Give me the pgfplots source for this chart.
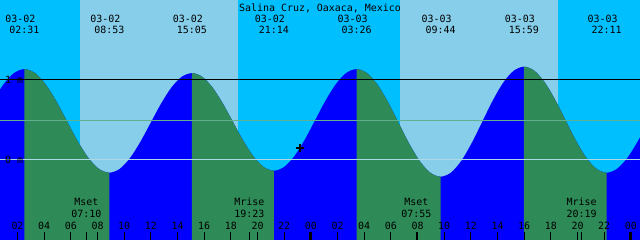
\documentclass[border=0pt]{standalone}
\usepackage{pgfplots}
\pgfplotsset{compat=1.18}
\usepgfplotslibrary{fillbetween}
\usepackage{fontspec}
\setmainfont{DejaVu Sans Mono}
\definecolor{nightc}{RGB}{0,191,255}
\definecolor{dayc}{RGB}{135,206,235}
\definecolor{risec}{RGB}{0,0,255}
\definecolor{fallc}{RGB}{46,139,87}
\definecolor{zeroc}{RGB}{173,216,230}
\definecolor{midc}{RGB}{96,176,144}
\begin{document}
\begin{tikzpicture}
\begin{axis}[
  scale only axis, width=640bp, height=240bp,
  xmin=0.6875, xmax=48.6875, ymin=-1.00625, ymax=1.99375,
  axis line style={draw=none},
  axis background/.style={fill=dayc},
  xtick=\empty, ytick=\empty,
  unbounded coords=jump,
  every node/.style={font=\fontsize{11.6bp}{13bp}\selectfont, inner sep=0pt},
]
% helper lines
\addplot[draw=none, name path=bot] coordinates {(-1,-1.00625) (50,-1.00625)};
\addplot[draw=none, name path=top] coordinates {(-1,1.99375) (50,1.99375)};
% night
\addplot[fill=nightc, draw=none] fill between[of=top and bot, soft clip={domain=0.6875:6.6875}];
\addplot[fill=nightc, draw=none] fill between[of=top and bot, soft clip={domain=18.5375:30.6875}];
\addplot[fill=nightc, draw=none] fill between[of=top and bot, soft clip={domain=42.5375:48.6875}];
% 1 m line
\addplot[black, line width=1bp] coordinates {(0.6875,1) (48.6875,1)};
% tide curve
\addplot[draw=none, name path=tide, smooth] coordinates {
(-0.592,0.490) (0.186,0.735) (0.963,0.943) (1.740,1.081) (2.517,1.130)
(3.313,1.081) (4.108,0.940) (4.904,0.730) (5.700,0.4825) (6.496,0.235) (7.292,0.025) (8.088,-0.116) (8.883,-0.165)
(9.658,-0.118) (10.433,0.017) (11.208,0.219) (11.983,0.4575) (12.758,0.696) (13.533,0.898) (14.308,1.033) (15.083,1.080)
(15.852,1.034) (16.621,0.901) (17.389,0.703) (18.158,0.470) (18.927,0.237) (19.696,0.039) (20.464,-0.0935) (21.233,-0.140)
(22.008,-0.092) (22.783,0.046) (23.558,0.252) (24.333,0.495) (25.108,0.738) (25.883,0.944) (26.658,1.082) (27.433,1.130)
(28.221,1.079) (29.008,0.933) (29.796,0.715) (30.583,0.4575) (31.371,0.200) (32.158,-0.018) (32.946,-0.164) (33.733,-0.215)
(34.514,-0.163) (35.296,-0.014) (36.077,0.2095) (36.858,0.4725) (37.639,0.7355) (38.421,0.959) (39.202,1.108) (39.983,1.160)
(40.758,1.110) (41.533,0.966) (42.308,0.751) (43.083,0.4975) (43.858,0.244) (44.633,0.029) (45.408,-0.1145) (46.183,-0.165)
(46.960,-0.117) (47.737,0.020) (48.514,0.2255) (49.291,0.4675)
};
\addplot[fill=risec, draw=none] fill between[of=tide and bot, soft clip={domain=0.6875:48.6875}];
\addplot[fill=fallc, draw=none] fill between[of=tide and bot, soft clip={domain=2.517:8.883}];
\addplot[fill=fallc, draw=none] fill between[of=tide and bot, soft clip={domain=15.083:21.233}];
\addplot[fill=fallc, draw=none] fill between[of=tide and bot, soft clip={domain=27.433:33.733}];
\addplot[fill=fallc, draw=none] fill between[of=tide and bot, soft clip={domain=39.983:46.183}];
% level lines over fill
\addplot[midc, line width=1bp] coordinates {(0.6875,0.4875) (48.6875,0.4875)};
\addplot[zeroc, line width=1bp] coordinates {(0.6875,0) (48.6875,0)};
% hour and moon tick marks
\addplot[black, line width=1bp] coordinates {
(2,-1.02) (2,-0.906) (2,nan) (4,-1.02) (4,-0.906) (4,nan) (6,-1.02) (6,-0.906) (6,nan)
(7.1667,-1.02) (7.1667,-0.906) (7.1667,nan)
(8,-1.02) (8,-0.906) (8,nan) (10,-1.02) (10,-0.906) (10,nan) (12,-1.02) (12,-0.906) (12,nan)
(14,-1.02) (14,-0.906) (14,nan) (16,-1.02) (16,-0.906) (16,nan) (18,-1.02) (18,-0.906) (18,nan)
(19.3833,-1.02) (19.3833,-0.906) (19.3833,nan)
(20,-1.02) (20,-0.906) (20,nan) (22,-1.02) (22,-0.906) (22,nan)
(26,-1.02) (26,-0.906) (26,nan) (28,-1.02) (28,-0.906) (28,nan) (30,-1.02) (30,-0.906) (30,nan)
(31.9167,-1.02) (31.9167,-0.906) (31.9167,nan)
(32,-1.02) (32,-0.906) (32,nan) (34,-1.02) (34,-0.906) (34,nan) (36,-1.02) (36,-0.906) (36,nan)
(38,-1.02) (38,-0.906) (38,nan) (40,-1.02) (40,-0.906) (40,nan) (42,-1.02) (42,-0.906) (42,nan)
(44,-1.02) (44,-0.906) (44,nan)
(44.3167,-1.02) (44.3167,-0.906) (44.3167,nan)
(46,-1.02) (46,-0.906)
};
\addplot[black, line width=3bp] coordinates {
(24,-1.02) (24,-0.906) (24,nan) (48,-1.02) (48,-0.906)
};
% current position
\addplot[only marks, mark=+, mark size=4bp, black, line width=2bp] coordinates {(23.19,0.145)};
% y labels
\node[anchor=base west] at (axis cs:0.80,0.953) {1 m};
\node[anchor=base west] at (axis cs:0.80,-0.0475) {0 m};
% title
\node[anchor=base] at (axis cs:24.6875,1.856) {Salina Cruz, Oaxaca, Mexico};
% tide labels
\node[anchor=base] at (axis cs:2.217,1.711) {03-02};
\node[anchor=base] at (axis cs:2.517,1.569) {02:31};
\node[anchor=base] at (axis cs:8.583,1.711) {03-02};
\node[anchor=base] at (axis cs:8.883,1.569) {08:53};
\node[anchor=base] at (axis cs:14.783,1.711) {03-02};
\node[anchor=base] at (axis cs:15.083,1.569) {15:05};
\node[anchor=base] at (axis cs:20.933,1.711) {03-02};
\node[anchor=base] at (axis cs:21.233,1.569) {21:14};
\node[anchor=base] at (axis cs:27.133,1.711) {03-03};
\node[anchor=base] at (axis cs:27.433,1.569) {03:26};
\node[anchor=base] at (axis cs:33.433,1.711) {03-03};
\node[anchor=base] at (axis cs:33.733,1.569) {09:44};
\node[anchor=base] at (axis cs:39.683,1.711) {03-03};
\node[anchor=base] at (axis cs:39.983,1.569) {15:59};
\node[anchor=base] at (axis cs:45.883,1.711) {03-03};
\node[anchor=base] at (axis cs:46.183,1.569) {22:11};
% moon labels
\node[anchor=base] at (axis cs:7.167,-0.58) {Mset};
\node[anchor=base] at (axis cs:7.167,-0.7275) {07:10};
\node[anchor=base] at (axis cs:19.383,-0.58) {Mrise};
\node[anchor=base] at (axis cs:19.383,-0.7275) {19:23};
\node[anchor=base] at (axis cs:31.917,-0.58) {Mset};
\node[anchor=base] at (axis cs:31.917,-0.7275) {07:55};
\node[anchor=base] at (axis cs:44.317,-0.58) {Mrise};
\node[anchor=base] at (axis cs:44.317,-0.7275) {20:19};
% hour labels
\node[anchor=base] at (axis cs:2,-0.881) {02};
\node[anchor=base] at (axis cs:4,-0.881) {04};
\node[anchor=base] at (axis cs:6,-0.881) {06};
\node[anchor=base] at (axis cs:8,-0.881) {08};
\node[anchor=base] at (axis cs:10,-0.881) {10};
\node[anchor=base] at (axis cs:12,-0.881) {12};
\node[anchor=base] at (axis cs:14,-0.881) {14};
\node[anchor=base] at (axis cs:16,-0.881) {16};
\node[anchor=base] at (axis cs:18,-0.881) {18};
\node[anchor=base] at (axis cs:20,-0.881) {20};
\node[anchor=base] at (axis cs:22,-0.881) {22};
\node[anchor=base] at (axis cs:24,-0.881) {00};
\node[anchor=base] at (axis cs:26,-0.881) {02};
\node[anchor=base] at (axis cs:28,-0.881) {04};
\node[anchor=base] at (axis cs:30,-0.881) {06};
\node[anchor=base] at (axis cs:32,-0.881) {08};
\node[anchor=base] at (axis cs:34,-0.881) {10};
\node[anchor=base] at (axis cs:36,-0.881) {12};
\node[anchor=base] at (axis cs:38,-0.881) {14};
\node[anchor=base] at (axis cs:40,-0.881) {16};
\node[anchor=base] at (axis cs:42,-0.881) {18};
\node[anchor=base] at (axis cs:44,-0.881) {20};
\node[anchor=base] at (axis cs:46,-0.881) {22};
\node[anchor=base] at (axis cs:48,-0.881) {00};
\end{axis}
\end{tikzpicture}
\end{document}
